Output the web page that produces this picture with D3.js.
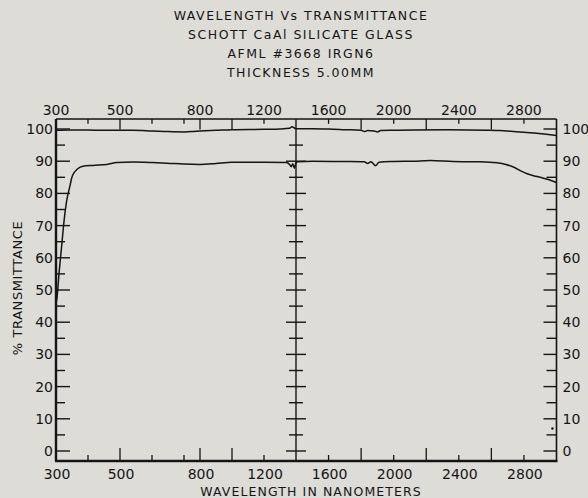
<!DOCTYPE html>
<html>
<head>
<meta charset="utf-8">
<script src="https://cdn.jsdelivr.net/npm/d3@7"></script>
<style>
  html, body { margin: 0; padding: 0; background: #dddcd7; }
  svg { display: block; }
  text { font-family: "DejaVu Sans", sans-serif; fill: #151515; }
</style>
</head>
<body>
<div id="chart"></div>
<script>
// ---------------- data ----------------
const titleLines = [
  "WAVELENGTH Vs TRANSMITTANCE",
  "SCHOTT CaAl SILICATE GLASS",
  "AFML #3668 IRGN6",
  "THICKNESS 5.00MM"
];
const xLabel = "WAVELENGTH IN NANOMETERS";
const yLabel = "% TRANSMITTANCE";

// wavelength axis: labelled values and tick marks (long / short)
const xTickLabels = [300, 500, 800, 1200, 1600, 2000, 2400, 2800];
const xLongTicks  = [500, 800, 1000, 1800, 2200, 2600];
const xShortTicks = [400, 600, 700, 1200, 1600, 2000, 2400, 2800];
const yTickLabels = [0, 10, 20, 30, 40, 50, 60, 70, 80, 90, 100];
const yMinorTicks = [5, 15, 25, 35, 45, 55, 65, 75, 85, 95];

// reference (100 %) trace
const refWavelength = [300, 340, 400, 450, 540, 600, 650, 700, 750, 800, 900, 1000, 1200, 1300, 1360, 1375, 1390, 1400,
  1500, 1600, 1700, 1800, 1820, 1840, 1880, 1900, 1920, 2000, 2120, 2330, 2575, 2650, 2735, 2860, 2950, 3000];
const refTransmittance = [99.6, 99.7, 99.7, 99.6, 99.6, 99.4, 99.2, 99.1, 99.2, 99.4, 99.6, 99.8, 99.9, 100.0, 100.2, 100.7, 100.3, 100.1,
  100.1, 100.0, 99.8, 99.6, 99.2, 99.5, 99.4, 99.1, 99.5, 99.6, 99.7, 99.75, 99.6, 99.5, 99.25, 98.75, 98.3, 98.0];

// sample trace
const sampleWavelength = [300, 303, 310, 318, 325, 333, 344, 349, 357, 365, 384, 416, 459, 491, 541, 600, 647, 700, 800, 900,
  1000, 1200, 1340, 1360, 1370, 1380, 1390, 1400, 1410, 1505, 1700, 1820, 1840, 1860, 1890, 1910, 2000, 2120, 2225, 2365,
  2530, 2635, 2690, 2735, 2780, 2820, 2860, 2900, 2950, 3000];
const sampleTransmittance = [46, 47.5, 55.8, 64, 71.3, 77.5, 82.5, 84.8, 86.5, 87.4, 88.4, 88.7, 89.0, 89.6, 89.75, 89.6, 89.4, 89.1, 89.0, 89.3,
  89.7, 89.7, 89.6, 89.0, 88.3, 89.2, 87.8, 89.5, 89.8, 90.0, 89.9, 89.8, 89.3, 89.8, 88.6, 89.7, 89.9, 90.0, 90.2, 89.9,
  89.8, 89.5, 89.0, 88.2, 87.0, 86.1, 85.5, 85.0, 84.3, 83.4];

// stray pen dot near the lower right
const dotWavelength = [2975];
const dotTransmittance = [7];

// ---------------- layout ----------------
const W = 588, H = 498;
const svg = d3.select("#chart").append("svg").attr("width", W).attr("height", H);

// piecewise wavelength scale (chart paper changes scale at 700/800 nm)
const x = d3.scaleLinear()
  .domain([300, 700, 800, 1400, 3000])
  .range([56, 184, 200, 296, 556.5]);
const y = d3.scaleLinear().domain([0, 100]).range([451, 129]);

const frameLeft = x(300), frameRight = x(3000), divider = x(1400);
const frameTop = y(103.1), frameBottom = y(-3.1);
const ink = "#151515";

// title
svg.append("g").selectAll("text").data(titleLines).join("text")
  .attr("x", 301).attr("y", (d, i) => 20 + i * 19)
  .attr("text-anchor", "middle")
  .style("font-size", "12.5px").style("letter-spacing", "1.5px")
  .text(d => d);

// frame
const frame = svg.append("g").attr("stroke", ink).attr("fill", "none");
frame.append("line").attr("x1", frameLeft).attr("x2", frameRight).attr("y1", frameTop).attr("y2", frameTop).attr("stroke-width", 1.3);
frame.append("line").attr("x1", frameLeft - 1).attr("x2", frameRight + 1).attr("y1", frameBottom).attr("y2", frameBottom).attr("stroke-width", 2.6);
frame.append("line").attr("x1", frameLeft).attr("x2", frameLeft).attr("y1", frameTop).attr("y2", frameBottom).attr("stroke-width", 2.4);
frame.append("line").attr("x1", frameRight).attr("x2", frameRight).attr("y1", frameTop).attr("y2", frameBottom).attr("stroke-width", 1.6);
frame.append("line").attr("x1", divider).attr("x2", divider).attr("y1", frameTop).attr("y2", frameBottom).attr("stroke-width", 1.4);

// x ticks (top and bottom)
function xTicks(vals, len) {
  const g = svg.append("g").attr("stroke", ink).attr("stroke-width", 1.3);
  g.selectAll("line.t").data(vals).join("line")
    .attr("x1", d => x(d)).attr("x2", d => x(d))
    .attr("y1", frameTop).attr("y2", frameTop + len * 0.8);
  g.selectAll("line.b").data(vals).join("line")
    .attr("x1", d => x(d)).attr("x2", d => x(d))
    .attr("y1", frameBottom).attr("y2", frameBottom - len);
}
xTicks(xLongTicks, 13);
xTicks(xShortTicks, 6);

// x labels top & bottom
const xLab = svg.append("g").style("font-size", "14px").attr("text-anchor", "middle");
xLab.selectAll("text.top").data(xTickLabels).join("text")
  .attr("x", d => x(d)).attr("y", 115).text(d => d);
xLab.selectAll("text.bot").data(xTickLabels).join("text")
  .attr("x", d => x(d) + 1).attr("y", 479).text(d => d);

// y ticks: left, right, middle divider
const yt = svg.append("g").attr("stroke", ink).attr("stroke-width", 1.4);
yt.selectAll("line.lmaj").data(yTickLabels).join("line")
  .attr("x1", frameLeft).attr("x2", frameLeft + 14).attr("y1", d => y(d)).attr("y2", d => y(d));
yt.selectAll("line.lmin").data(yMinorTicks).join("line")
  .attr("x1", frameLeft).attr("x2", frameLeft + 9).attr("y1", d => y(d)).attr("y2", d => y(d));
yt.selectAll("line.rmaj").data(yTickLabels).join("line")
  .attr("x1", frameRight).attr("x2", frameRight - 13).attr("y1", d => y(d)).attr("y2", d => y(d));
yt.selectAll("line.rmin").data(yMinorTicks).join("line")
  .attr("x1", frameRight).attr("x2", frameRight - 10).attr("y1", d => y(d)).attr("y2", d => y(d));
yt.selectAll("line.mmaj").data(yTickLabels.filter(d => d < 100)).join("line")
  .attr("x1", divider - 10).attr("x2", divider + 10).attr("y1", d => y(d)).attr("y2", d => y(d));
yt.selectAll("line.mmin").data(yMinorTicks).join("line")
  .attr("x1", divider - 7).attr("x2", divider + 7).attr("y1", d => y(d)).attr("y2", d => y(d));

// y labels
const yLab = svg.append("g").style("font-size", "14px");
yLab.selectAll("text.l").data(yTickLabels).join("text")
  .attr("x", frameLeft - 3).attr("y", d => y(d) + 5).attr("text-anchor", "end").text(d => d);
yLab.selectAll("text.r").data(yTickLabels).join("text")
  .attr("x", frameRight + 6).attr("y", d => y(d) + 5).attr("text-anchor", "start").text(d => d);

// axis titles
svg.append("text").attr("transform", "translate(22,288) rotate(-90)")
  .attr("text-anchor", "middle").style("font-size", "13px").style("letter-spacing", "0.6px").text(yLabel);
svg.append("text").attr("x", 311).attr("y", 496)
  .attr("text-anchor", "middle").style("font-size", "12.5px").style("letter-spacing", "1.1px").text(xLabel);

// traces
const line = d3.line().x(d => x(d[0])).y(d => y(d[1])).curve(d3.curveMonotoneX);
const refData = d3.zip(refWavelength, refTransmittance);
const sampleData = d3.zip(sampleWavelength, sampleTransmittance);
const traces = svg.append("g").attr("fill", "none").attr("stroke", ink).attr("stroke-width", 1.5);
traces.append("path").attr("d", line(refData));
traces.append("path").attr("d", line(sampleData));

svg.append("g").selectAll("circle").data(d3.zip(dotWavelength, dotTransmittance)).join("circle")
  .attr("cx", d => x(d[0])).attr("cy", d => y(d[1])).attr("r", 1.2).attr("fill", ink);
</script>
</body>
</html>
